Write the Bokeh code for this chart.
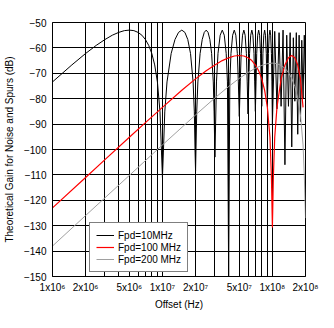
from bokeh.plotting import figure
from bokeh.models import (FixedTicker, CustomJSTickFormatter, Legend, LegendItem,
                          Label, Range1d)
from bokeh.embed import file_html
from bokeh.resources import INLINE

# ---------------- data ----------------
# Offset frequencies in MHz, gain in dB
black_f_mhz = [
    1, 1.5, 2, 2.5, 3, 3.5, 4, 4.5, 5, 5.5, 6, 6.5, 7, 7.5, 8, 8.5, 9, 9.5, 9.8, 10,
    10.2, 10.5, 11, 12, 13, 14, 15, 16, 17, 18, 19, 19.5, 19.8, 20,
    20.5, 21, 22, 23, 24, 25, 26, 27, 28, 29, 29.5, 30,
    31, 32, 33.5, 35, 36.5, 38, 39, 40,
    41, 42, 43.5, 45, 46.5, 48, 49, 50,
    51, 52, 53.5, 55, 56.5, 58, 59, 60,
    61, 62, 63.5, 65, 66.5, 68, 69, 70,
    71, 72, 73.5, 75, 76.5, 78, 79, 80,
    81, 82, 83.5, 85, 86.5, 88, 89, 90,
    91, 92, 93.5, 95, 96.5, 98, 99, 100,
    105, 110, 115, 120, 125, 130, 135, 140, 145, 150,
    155, 160, 165, 170, 175, 180, 185, 190, 195, 200,
]
black_db = [
    -73.4, -66.7, -62.2, -59.0, -56.7, -55.0, -53.9, -53.2, -53.0, -53.2, -53.9, -55.0, -56.7, -59.0, -62.2, -66.7, -73.4, -85.2, -101, -111,
    -101, -85.2, -73.4, -62.2, -56.7, -53.9, -53.0, -53.9, -56.7, -62.2, -73.4, -85.2, -101, -108.5,
    -85.2, -73.4, -62.2, -56.7, -53.9, -53.0, -53.9, -56.7, -62.2, -73.4, -85.2, -103,
    -73.4, -62.2, -55.0, -53.0, -55.0, -62.2, -73.4, -150,
    -73.4, -62.2, -55.0, -53.0, -55.0, -62.2, -73.4, -87,
    -73.4, -62.2, -55.0, -53.0, -55.0, -62.2, -73.4, -86,
    -73.4, -62.2, -55.0, -53.0, -55.0, -62.2, -73.4, -85,
    -73.4, -62.2, -55.0, -53.0, -55.0, -62.2, -73.4, -83,
    -73.4, -62.2, -55.0, -53.0, -55.0, -62.2, -73.4, -82,
    -73.4, -62.2, -55.0, -53.0, -55.0, -62.2, -73.4, -90,
    -53.5, -84, -54, -83, -53, -106, -55, -83, -54, -99,
    -56, -81, -54, -94, -55, -89, -57, -80, -55, -75,
]

red_f_mhz = [1, 2, 3, 5, 7, 10, 15, 20, 25, 30, 35, 40, 45, 50, 55, 60, 65, 70, 75,
             80, 85, 90, 95, 98, 100, 102, 105, 110, 120, 130, 140, 150, 160, 170,
             180, 190]
red_db = [-123, -111, -104, -95.2, -89.4, -83.4, -76.7, -72.2, -69.0, -66.7, -65.0,
          -63.9, -63.2, -63.0, -63.2, -63.9, -65.0, -66.7, -69.0, -72.2, -76.7, -83.4,
          -95.2, -111, -130.7, -111, -95.2, -83.4, -72.2, -66.7, -63.9, -63.0, -63.9,
          -66.7, -72.2, -83.4]

gray_f_mhz = [1, 2, 5, 10, 20, 30, 40, 50, 60, 70, 80, 90, 100, 110, 120, 130, 140,
              150, 160, 170, 180, 190, 195, 200]
gray_db = [-138, -126, -110.2, -98.2, -86.4, -79.7, -75.2, -72.0, -69.7, -68.0, -66.9,
           -66.2, -66.0, -66.2, -66.9, -68.0, -69.7, -72.0, -75.2, -79.7, -86.4, -98.2,
           -110, -127]

series_names = ["Fpd=10MHz", "Fpd=100 MHz", "Fpd=200 MHz"]
series_colors = ["#000000", "#ff0000", "#a0a0a0"]

x_grid_hz = [1e6, 2e6, 3e6, 4e6, 5e6, 6e6, 7e6, 8e6, 9e6,
             1e7, 2e7, 3e7, 4e7, 5e7, 6e7, 7e7, 8e7, 9e7, 1e8, 2e8]
x_label_hz = [1e6, 2e6, 5e6, 1e7, 2e7, 5e7, 1e8, 2e8]
x_label_text = ["1x10\u2076", "2x10\u2076", "5x10\u2076", "1x10\u2077", "2x10\u2077",
                "5x10\u2077", "1x10\u2078", "2x10\u2078"]
y_ticks = [-150, -140, -130, -120, -110, -100, -90, -80, -70, -60, -50]

FONT = "Liberation Sans"

# ---------------- figure ----------------
p = figure(width=334, height=328, x_axis_type="log",
           x_range=Range1d(1e6, 2e8), y_range=Range1d(-150, -50),
           output_backend="svg", toolbar_location=None,
           min_border_left=50, min_border_right=29,
           min_border_top=22, min_border_bottom=52,
           background_fill_color="white", border_fill_color="white")

p.outline_line_color = "black"
p.outline_line_width = 1

to_hz = lambda arr: [v * 1e6 for v in arr]
r_black = p.line(to_hz(black_f_mhz), black_db, line_color=series_colors[0], line_width=1)
r_red = p.line(to_hz(red_f_mhz), red_db, line_color=series_colors[1], line_width=1.2)
r_gray = p.line(to_hz(gray_f_mhz), gray_db, line_color=series_colors[2], line_width=1)

# axes
p.xaxis.ticker = FixedTicker(ticks=x_grid_hz, minor_ticks=[])
js_map = "{" + ",".join('"%d":"%s"' % (int(v), t) for v, t in zip(x_label_hz, x_label_text)) + "}"
p.xaxis.formatter = CustomJSTickFormatter(code="""
const m = %s;
const k = String(Math.round(tick));
return (k in m) ? m[k] : "";
""" % js_map)
p.yaxis.ticker = FixedTicker(ticks=y_ticks, minor_ticks=[])

for ax in (p.xaxis[0], p.yaxis[0]):
    ax.major_tick_in = 0
    ax.major_tick_out = 0
    ax.minor_tick_in = 0
    ax.minor_tick_out = 0
    ax.axis_line_color = "black"
    ax.major_label_text_font = FONT
    ax.major_label_text_font_size = "10px"
    ax.major_label_text_color = "black"
    ax.axis_label_text_font = FONT
    ax.axis_label_text_font_size = "10px"
    ax.axis_label_text_font_style = "normal"
    ax.axis_label_text_color = "black"

p.xaxis.axis_label = "Offset (Hz)"
p.yaxis.axis_label = "Theoretical Gain for Noise and Spurs (dB)"
p.xaxis.major_label_standoff = 5
p.yaxis.major_label_standoff = 6
p.xaxis.axis_label_standoff = 3
p.yaxis.axis_label_standoff = 6

p.xgrid.grid_line_color = "black"
p.ygrid.grid_line_color = "black"
p.xgrid.grid_line_width = 1
p.ygrid.grid_line_width = 1
p.xgrid.grid_line_alpha = 1
p.ygrid.grid_line_alpha = 1

legend = Legend(items=[LegendItem(label=series_names[0], renderers=[r_black]),
                       LegendItem(label=series_names[1], renderers=[r_red]),
                       LegendItem(label=series_names[2], renderers=[r_gray])],
                location=(37, 4))
legend.border_line_color = "black"
legend.border_line_width = 1.5
legend.background_fill_color = "white"
legend.background_fill_alpha = 1
legend.label_text_font = FONT
legend.label_text_font_size = "10px"
legend.label_text_color = "black"
legend.glyph_width = 18
legend.glyph_height = 12
legend.label_height = 12
legend.label_standoff = 4
legend.spacing = 0
legend.padding = 6
legend.margin = 0
p.add_layout(legend)

note = Label(x=263, y=-44, x_units="screen", y_units="screen", text="D001",
             text_font=FONT, text_font_size="5px", text_color="#909090",
             text_align="center", text_baseline="middle")
p.add_layout(note)

open("out.html", "w").write(file_html(p, INLINE))
